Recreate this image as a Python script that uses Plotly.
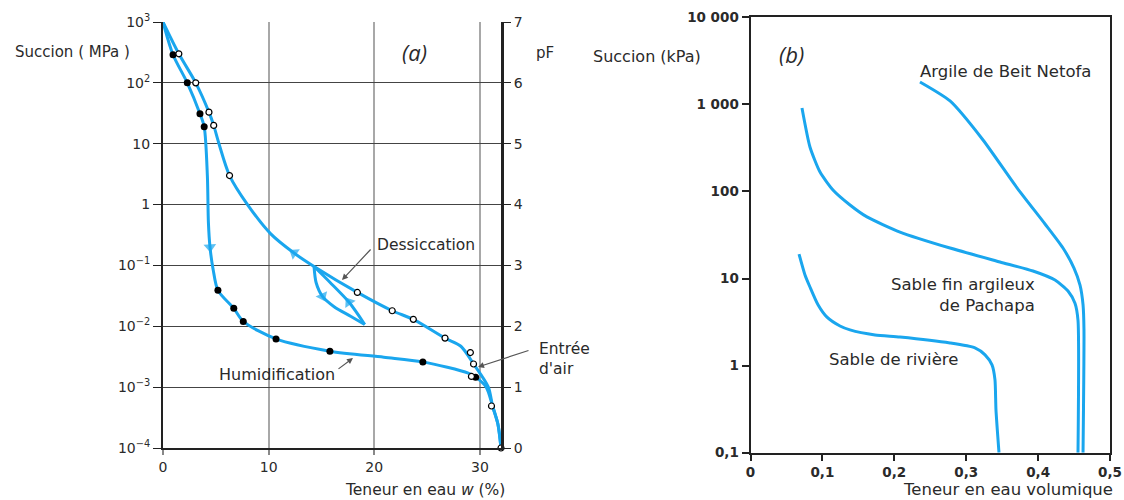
import plotly.graph_objects as go

# ---------------- Panel (a): suction vs gravimetric water content ----------------
# drying branch (dessiccation), ordered by increasing water content
dess_w = [0, 1.5, 3.1, 4.35, 4.8, 5.3, 6.3, 8.0, 10.2, 12.4, 14.3, 18.4, 21.7, 23.7, 26.7, 28.2, 29.4, 30.8, 31.2, 31.7, 32.0]
dess_s = [1000, 300, 100, 33, 20, 10, 3.0, 1.0, 0.33, 0.16, 0.096, 0.036, 0.018, 0.013, 0.0064, 0.0047, 0.0024, 0.001, 0.00049, 0.00025, 0.0001]

# wetting branch (humidification), ordered by increasing water content
hum_w = [0, 0.95, 2.3, 3.5, 3.9, 4.2, 4.3, 4.45, 4.75, 5.2, 6.7, 7.6, 10.7, 15.8, 20.9, 24.6, 28.9, 29.6, 30.6, 31.2, 31.7, 32.0]
hum_s = [1000, 290, 100, 31, 19, 3.0, 0.5, 0.2, 0.085, 0.039, 0.0197, 0.012, 0.0062, 0.0039, 0.0031, 0.0026, 0.0017, 0.00146, 0.001, 0.00049, 0.00025, 0.0001]

# scanning loop
loop_down_w = [14.3, 14.5, 15.1, 16.2, 17.8, 19.1]
loop_down_s = [0.096, 0.052, 0.031, 0.021, 0.0145, 0.0107]
loop_up_w = [19.1, 17.6, 15.8, 14.3]
loop_up_s = [0.0107, 0.025, 0.053, 0.096]

# measured points
open_w = [1.5, 3.1, 4.35, 4.8, 6.3, 18.4, 21.7, 23.7, 26.7, 29.1, 29.4, 29.2, 31.1, 32.0]
open_s = [300, 100, 33, 20, 3.0, 0.036, 0.018, 0.013, 0.0064, 0.0037, 0.0024, 0.0015, 0.00049, 0.0001]
fill_w = [0.95, 2.3, 3.5, 3.9, 5.2, 6.7, 7.6, 10.7, 15.8, 24.6, 29.6]
fill_s = [290, 100, 31, 19, 0.039, 0.0197, 0.012, 0.0062, 0.0039, 0.0026, 0.00146]

a_y_ticks = [1e-4, 1e-3, 1e-2, 1e-1, 1, 10, 100, 1000]
a_y_text = ["10<sup>−4</sup>", "10<sup>−3</sup>", "10<sup>−2</sup>", "10<sup>−1</sup>", "1", "10", "10<sup>2</sup>", "10<sup>3</sup>"]
a_x_ticks = [0, 10, 20, 30]
pf_ticks = [0, 1, 2, 3, 4, 5, 6, 7]

# ---------------- Panel (b): suction vs volumetric water content ----------------
netofa_t = [0.2357, 0.2775, 0.3234, 0.3707, 0.4096, 0.4346, 0.4499, 0.4583, 0.4625, 0.4638, 0.4625]
netofa_s = [1807, 1094, 390, 110, 42.3, 22.4, 13.2, 8.4, 5.0, 2.6, 0.1]
pachapa_t = [0.0716, 0.0827, 0.0967, 0.1147, 0.1384, 0.1620, 0.2079, 0.2775, 0.3470, 0.3929, 0.4235, 0.4416, 0.4513, 0.4555, 0.4555]
pachapa_s = [908, 324, 167, 104, 70, 51, 34.2, 22.4, 15.5, 12.2, 9.6, 7.2, 5.2, 3.3, 0.1]
riviere_t = [0.0675, 0.0758, 0.0827, 0.0939, 0.1064, 0.1245, 0.1384, 0.1732, 0.2079, 0.2775, 0.3122, 0.3262, 0.3359, 0.3400, 0.3414, 0.3456]
riviere_s = [19.1, 11.0, 8.0, 5.0, 3.6, 2.85, 2.57, 2.25, 2.13, 1.82, 1.60, 1.33, 1.02, 0.69, 0.31, 0.1]

b_y_ticks = [0.1, 1, 10, 100, 1000, 10000]
b_y_text = ["0,1", "1", "10", "100", "1 000", "10 000"]
b_x_ticks = [0, 0.1, 0.2, 0.3, 0.4, 0.5]
b_x_text = ["0", "0,1", "0,2", "0,3", "0,4", "0,5"]

BLUE = "#1AA6EE"
FONT = "DejaVu Sans"
INK = "#2a2a2a"
W, H = 1124, 500


def px_x(p):
    return p / W


def px_y(p):
    return 1 - p / H


fig = go.Figure()

line_style = dict(color=BLUE, width=3, shape="spline", smoothing=0.8)
for xs, ys in [(dess_w, dess_s), (hum_w, hum_s), (loop_down_w, loop_down_s), (loop_up_w, loop_up_s)]:
    fig.add_trace(go.Scatter(x=xs, y=ys, mode="lines", line=line_style,
                             xaxis="x", yaxis="y", hoverinfo="skip", showlegend=False))


def arrow(xs, ys, i_from, i_to):
    # small triangle on the curve, oriented from one vertex to the next
    fig.add_trace(go.Scatter(
        x=[xs[i_from], xs[i_to]], y=[ys[i_from], ys[i_to]], mode="markers",
        marker=dict(symbol="triangle-up", size=[0, 11], color=BLUE, angleref="previous",
                    line=dict(width=0)),
        xaxis="x", yaxis="y", hoverinfo="skip", showlegend=False, cliponaxis=False))


arrow(dess_w, dess_s, 10, 9)
arrow(hum_w, hum_s, 6, 7)
arrow(loop_down_w, loop_down_s, 1, 2)
arrow(loop_up_w, loop_up_s, 0, 1)

fig.add_trace(go.Scatter(x=fill_w, y=fill_s, mode="markers",
                         marker=dict(symbol="circle", size=7, color="black"),
                         xaxis="x", yaxis="y", hoverinfo="skip", showlegend=False, cliponaxis=False))
fig.add_trace(go.Scatter(x=open_w, y=open_s, mode="markers",
                         marker=dict(symbol="circle", size=6, color="white",
                                     line=dict(color="black", width=1.2)),
                         xaxis="x", yaxis="y", hoverinfo="skip", showlegend=False, cliponaxis=False))

# pF axis carrier
fig.add_trace(go.Scatter(x=[0], y=[0], mode="markers", marker=dict(opacity=0),
                         xaxis="x", yaxis="y3", hoverinfo="skip", showlegend=False))

b_line = dict(color=BLUE, width=3, shape="spline", smoothing=0.6)
for xs, ys in [(netofa_t, netofa_s), (pachapa_t, pachapa_s), (riviere_t, riviere_s)]:
    fig.add_trace(go.Scatter(x=xs, y=ys, mode="lines", line=b_line,
                             xaxis="x2", yaxis="y2", hoverinfo="skip", showlegend=False))

tick_font = dict(family=FONT, size=14, color=INK)
bold_tick = dict(family=FONT, size=13.5, color=INK, weight="bold")

fig.update_layout(
    width=W, height=H,
    margin=dict(l=0, r=0, t=0, b=0, pad=0, autoexpand=False),
    paper_bgcolor="white", plot_bgcolor="white",
    xaxis=dict(domain=[px_x(163), px_x(501)], range=[0, 32], anchor="y", automargin=False,
               tickvals=a_x_ticks, tickfont=tick_font, ticks="outside", ticklen=5,
               tickcolor="#888", tickwidth=2,
               showgrid=True, gridcolor="#a8a8a8", gridwidth=2,
               showline=True, linecolor="#222", linewidth=2, zeroline=False),
    yaxis=dict(domain=[1 - 448 / H, 1 - 22 / H], type="log", range=[-4, 3], anchor="x",
               automargin=False,
               tickvals=a_y_ticks, ticktext=a_y_text, tickfont=tick_font,
               ticks="outside", ticklen=8, tickcolor="#222",
               showgrid=True, gridcolor="#444", gridwidth=1.2,
               showline=True, linecolor="#222", linewidth=2, zeroline=False),
    yaxis3=dict(overlaying="y", side="right", anchor="x", range=[0, 7], automargin=False,
                tickvals=pf_ticks, tickfont=tick_font, ticks="outside", ticklen=7,
                tickcolor="#222", showgrid=False, zeroline=False,
                showline=True, linecolor="#222", linewidth=3),
    xaxis2=dict(domain=[px_x(750.5), px_x(1110)], range=[0, 0.5], anchor="y2", automargin=False,
                tickvals=b_x_ticks, ticktext=b_x_text, tickfont=bold_tick,
                ticks="outside", ticklen=6, tickcolor="#222", tickwidth=1.5,
                showgrid=False, zeroline=False, showline=True, mirror=True,
                linecolor="#222", linewidth=2),
    yaxis2=dict(domain=[1 - 452.7 / H, 1 - 17.3 / H], type="log", range=[-1, 4], anchor="x2",
                automargin=False,
                tickvals=b_y_ticks, ticktext=b_y_text, tickfont=bold_tick,
                ticks="outside", ticklen=7, tickcolor="#222", tickwidth=1.5,
                showgrid=False, zeroline=False, showline=True, mirror=True,
                linecolor="#222", linewidth=2),
)

txt = dict(family=FONT, size=15, color=INK)


def label(text, x, y, xanchor="center", size=15.5, italic=False, align="center", family=FONT):
    f = dict(txt, size=size, family=family)
    if italic:
        f["style"] = "italic"
    fig.add_annotation(text=text, x=px_x(x), y=px_y(y), xref="paper", yref="paper",
                       xanchor=xanchor, yanchor="middle", showarrow=False, font=f, align=align)


label("Succion ( MPa )", 72, 52, size=15)
label("pF", 545, 53, size=15)
label("(a)", 414, 52, size=22, italic=True, family="Open Sans")
label("Teneur en eau <i>w</i> (%)", 425, 490, size=15.5)
label("Dessiccation", 426, 245, size=15.5)
label("Humidification", 277, 374, size=16)
label("Entrée<br>d'air", 537, 359, xanchor="left", size=15.5, align="left")

label("Succion (kPa)", 647, 57, size=16)
label("(b)", 791, 54, size=22, italic=True, family="Open Sans")
label("Argile de Beit Netofa", 1005, 71, size=16.5)
label("Sable fin argileux<br>de Pachapa", 1037, 295, xanchor="right", size=16.5, align="right")
label("Sable de rivière", 893, 359, size=16.5)
label("Teneur en eau volumique", 1008, 489, size=16.5)


def leader(hx, hy, tx, ty):
    fig.add_annotation(x=px_x(hx), y=px_y(hy), xref="paper", yref="paper", text="",
                       showarrow=True, ax=tx - hx, ay=ty - hy, axref="pixel", ayref="pixel",
                       arrowhead=2, arrowsize=1.0, arrowwidth=1.2, arrowcolor="#555")


leader(342, 280, 372, 248)
leader(353, 358, 337, 370)
leader(478, 367, 530, 350)

fig.write_html("out.html")
